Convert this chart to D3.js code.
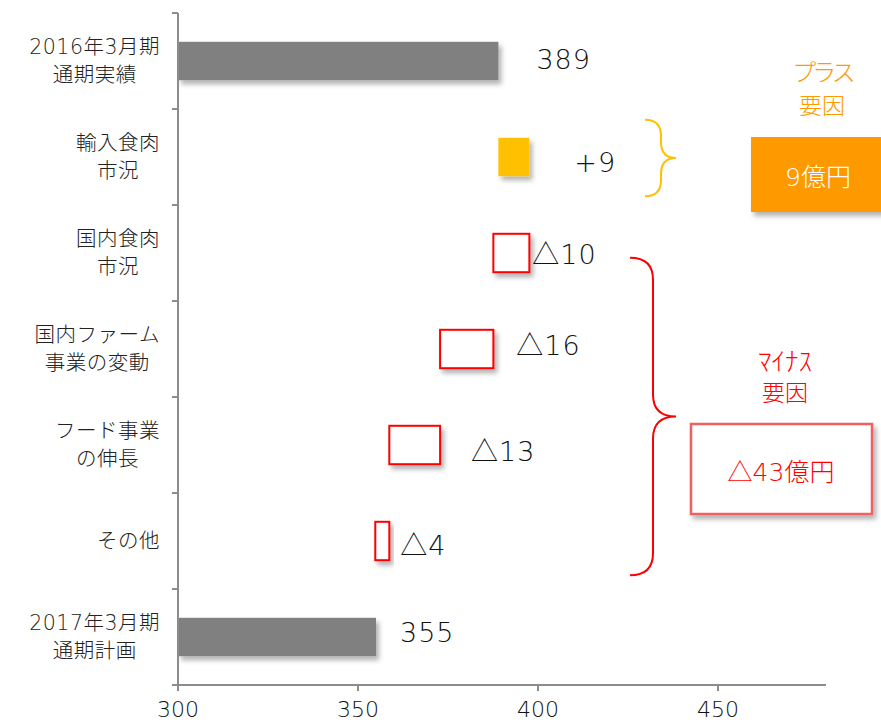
<!DOCTYPE html>
<html>
<head>
<meta charset="utf-8">
<script src="https://cdn.jsdelivr.net/npm/d3@7"></script>
<style>
body { margin: 0; background: #fff; }
text { font-family: "DejaVu Sans", "Noto Sans CJK JP", sans-serif; }
</style>
</head>
<body>
<svg width="881" height="722"></svg>
<script>
// categories (two lines each), top to bottom
const categories = [
  ["2016年3月期", "通期実績"],
  ["輸入食肉", "市況"],
  ["国内食肉", "市況"],
  ["国内ファーム", "事業の変動"],
  ["フード事業", "の伸長"],
  ["その他"],
  ["2017年3月期", "通期計画"]
];
const startValue = 389;
const deltas = [8.6, -10, -14.8, -14.1, -3.9];
const endValue = 355;
const valueLabels = ["389", "+9", "△10", "△16", "△13", "△4", "355"];
const xTicks = [300, 350, 400, 450];
const xDomain = [300, 480];

// label nudges (px) relative to bar end / band centre
const labelDx = [38, 45, 3, 23, 31, 11, 24];
const labelDy = [-2, 5, 1, -4, 6, 4, -5];

const svg = d3.select("svg");

const defs = svg.append("defs");
const f = defs.append("filter").attr("id", "shadow")
  .attr("x", "-20%").attr("y", "-20%").attr("width", "150%").attr("height", "160%");
f.append("feDropShadow").attr("dx", 3).attr("dy", 4).attr("stdDeviation", 2.5)
  .attr("flood-color", "#000").attr("flood-opacity", 0.3);

const plotL = 178, plotR = 826, plotT = 13, plotB = 685;

const x = d3.scaleLinear().domain(xDomain).range([plotL, plotR]);
const y = d3.scaleBand().domain(d3.range(categories.length))
  .range([plotT, plotB]).paddingInner(0.6).paddingOuter(0.3);

// build waterfall rows
let rows = [];
rows.push({ i: 0, x0: xDomain[0], x1: startValue, kind: "total" });
let run = startValue;
deltas.forEach((d, k) => {
  const a = run, b = run + d;
  rows.push({ i: k + 1, x0: Math.min(a, b), x1: Math.max(a, b), kind: d > 0 ? "up" : "down" });
  run = b;
});
rows.push({ i: categories.length - 1, x0: xDomain[0], x1: endValue, kind: "total" });

// bars
svg.append("g").selectAll("rect").data(rows).enter().append("rect")
  .attr("x", d => x(d.x0))
  .attr("y", d => y(d.i))
  .attr("width", d => x(d.x1) - x(d.x0))
  .attr("height", y.bandwidth())
  .attr("fill", d => d.kind == "total" ? "#808080" : d.kind == "up" ? "#FFC000" : "#fff")
  .attr("stroke", d => d.kind == "down" ? "#FF0000" : "none")
  .attr("stroke-width", 2)
  .attr("filter", "url(#shadow)");

// value labels
svg.append("g").selectAll("text").data(rows).enter().append("text")
  .attr("x", (d, k) => x(d.x1) + labelDx[k])
  .attr("y", (d, k) => y(d.i) + y.bandwidth() / 2 + labelDy[k])
  .attr("dominant-baseline", "central")
  .attr("font-size", 27)
  .attr("font-weight", 200)
  .attr("letter-spacing", 1)
  .attr("fill", "#111")
  .text((d, k) => valueLabels[k]);

// axes
const axisColor = "#8c8c8c";
const ax = svg.append("g");
ax.append("line").attr("x1", plotL).attr("x2", plotL).attr("y1", plotT).attr("y2", plotB + 6)
  .attr("stroke", axisColor).attr("stroke-width", 2);
ax.append("line").attr("x1", plotL).attr("x2", plotR).attr("y1", plotB).attr("y2", plotB)
  .attr("stroke", axisColor).attr("stroke-width", 2);
// left ticks at band boundaries
const bounds = d3.range(categories.length + 1).map(k => plotT + k * y.step());
ax.selectAll(".yt").data(bounds).enter().append("line")
  .attr("x1", plotL - 6).attr("x2", plotL).attr("y1", d => d).attr("y2", d => d)
  .attr("stroke", axisColor).attr("stroke-width", 2);
ax.selectAll(".xt").data(xTicks).enter().append("line")
  .attr("x1", d => x(d)).attr("x2", d => x(d)).attr("y1", plotB).attr("y2", plotB + 6)
  .attr("stroke", axisColor).attr("stroke-width", 2);
ax.selectAll(".xl").data(xTicks).enter().append("text")
  .attr("x", d => x(d)).attr("y", 717)
  .attr("text-anchor", "middle").attr("font-size", 22).attr("font-weight", 200)
  .attr("fill", "#111")
  .text(d => d);

// category labels: lines centred, block right-aligned at x=160
const catG = svg.append("g");
categories.forEach((lines, k) => {
  const g = catG.append("g");
  const cy = y(k) + y.bandwidth() / 2;
  const lh = 28;
  const ts = lines.map((s, j) => g.append("text")
    .attr("y", cy + (j - (lines.length - 1) / 2) * lh)
    .attr("dominant-baseline", "central")
    .attr("text-anchor", "middle")
    .attr("font-size", 20.5)
    .attr("font-weight", 200)
    .attr("letter-spacing", 0.5)
    .attr("fill", "#222")
    .text(s));
  const w = d3.max(ts, t => t.node().getComputedTextLength());
  ts.forEach(t => t.attr("x", 160 - w / 2));
});

// braces
function brace(x0, y0, y1, xm, tip, r) {
  const mid = (y0 + y1) / 2;
  const p = d3.path();
  p.moveTo(x0, y0);
  p.quadraticCurveTo(xm, y0, xm, y0 + r);
  p.lineTo(xm, mid - r);
  p.quadraticCurveTo(xm, mid, tip, mid);
  p.quadraticCurveTo(xm, mid, xm, mid + r);
  p.lineTo(xm, y1 - r);
  p.quadraticCurveTo(xm, y1, x0, y1);
  return p.toString();
}
svg.append("path")
  .attr("d", brace(645, y(1) - 18, y(1) + y.bandwidth() + 20, 661, 676, 16))
  .attr("fill", "none").attr("stroke", "#FFC000").attr("stroke-width", 2);
svg.append("path")
  .attr("d", brace(630, y(2) + 24, y(5) + y.bandwidth() + 15, 653, 676, 22))
  .attr("fill", "none").attr("stroke", "#FF0000").attr("stroke-width", 2);

// plus annotation
svg.append("text").attr("x", 822).attr("y", 73).attr("text-anchor", "middle")
  .attr("dominant-baseline", "central").attr("font-size", 24).attr("font-weight", 200)
  .attr("letter-spacing", -4)
  .attr("fill", "#FF9900").text("プラス");
svg.append("text").attr("x", 822).attr("y", 106).attr("text-anchor", "middle")
  .attr("dominant-baseline", "central").attr("font-size", 23).attr("font-weight", 200)
  .attr("fill", "#FF9900").text("要因");
svg.append("rect").attr("x", 751).attr("y", 137).attr("width", 140).attr("height", 75)
  .attr("fill", "#FF9900").attr("filter", "url(#shadow)");
svg.append("text").attr("x", 818).attr("y", 177).attr("text-anchor", "middle")
  .attr("dominant-baseline", "central").attr("font-size", 25).attr("font-weight", 200)
  .attr("fill", "#fff").text("9億円");

// minus annotation
svg.append("text").attr("x", 785).attr("y", 362).attr("text-anchor", "middle")
  .attr("dominant-baseline", "central").attr("font-size", 26).attr("font-weight", 200)
  .attr("textLength", 54).attr("lengthAdjust", "spacingAndGlyphs")
  .attr("fill", "#FF0000").text("ﾏｲﾅｽ");
svg.append("text").attr("x", 785).attr("y", 393).attr("text-anchor", "middle")
  .attr("dominant-baseline", "central").attr("font-size", 23).attr("font-weight", 200)
  .attr("fill", "#FF0000").text("要因");
svg.append("rect").attr("x", 691).attr("y", 424).attr("width", 181).attr("height", 90)
  .attr("fill", "#fff").attr("stroke", "#F06060").attr("stroke-width", 2.5)
  .attr("filter", "url(#shadow)");
svg.append("text").attr("x", 781).attr("y", 472).attr("text-anchor", "middle")
  .attr("dominant-baseline", "central").attr("font-size", 25).attr("font-weight", 200)
  .attr("fill", "#FF0000").text("△43億円");
</script>
</body>
</html>
